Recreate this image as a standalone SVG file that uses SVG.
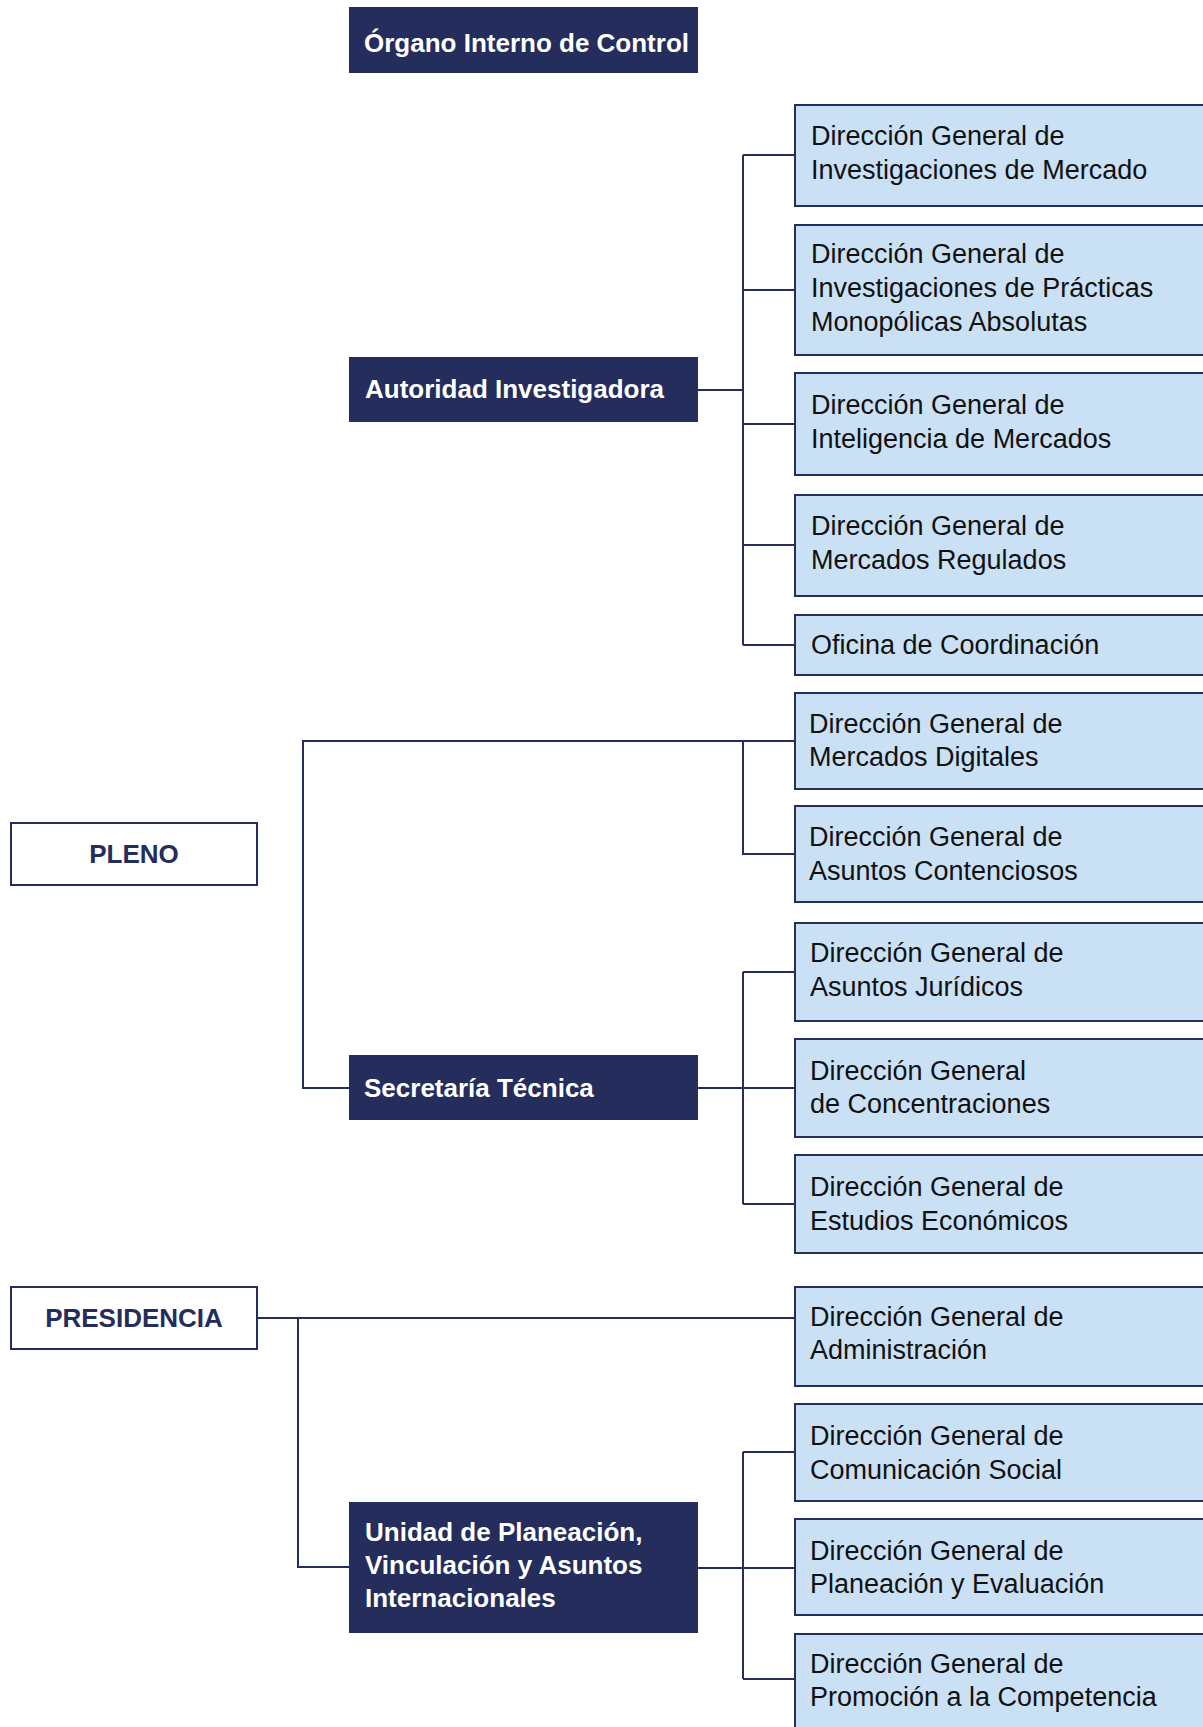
<svg xmlns="http://www.w3.org/2000/svg" width="1203" height="1727" viewBox="0 0 1203 1727">
<style>
.dark{fill:#242D5B;}
.dt{font-family:"Liberation Sans",Arial,sans-serif;font-weight:bold;font-size:26px;fill:#FFFFFF;}
.top{fill:#FFFFFF;stroke:#242D5B;stroke-width:2;}
.tt{font-family:"Liberation Sans",Arial,sans-serif;font-weight:bold;font-size:26px;fill:#242D5B;text-anchor:middle;}
.lb{fill:#C9E0F5;stroke:#242D5B;stroke-width:2;}
.lt{font-family:"Liberation Sans",Arial,sans-serif;font-size:27px;fill:#111111;}
.cn{fill:none;stroke:#242D5B;stroke-width:2;}
</style>
<rect width="1203" height="1727" fill="#FFFFFF"/>
<g id="connectors">
<path class="cn" d="M697 390 H743 M743 155 V645 M743 155 H795 M743 290 H795 M743 424 H795 M743 545 H795 M743 645 H795"/>
<path class="cn" d="M349 1088 H303 V741 H795 M743 741 V854 H795"/>
<path class="cn" d="M697 1088 H795 M743 972 V1204 M743 972 H795 M743 1204 H795"/>
<path class="cn" d="M257 1318 H795 M298 1318 V1567 H349"/>
<path class="cn" d="M697 1568 H795 M743 1452 V1679 M743 1452 H795 M743 1679 H795"/>
</g>
<g id="organo"><rect class="dark" x="349" y="7" width="349" height="66"/><text class="dt" x="364" y="52">Órgano Interno de Control</text></g>
<g id="autoridad"><rect class="dark" x="349" y="357" width="349" height="65"/><text class="dt" x="365" y="398">Autoridad Investigadora</text></g>
<g id="secretaria"><rect class="dark" x="349" y="1055" width="349" height="65"/><text class="dt" x="364" y="1097">Secretaría Técnica</text></g>
<g id="unidad"><rect class="dark" x="349" y="1502" width="349" height="131"/><text class="dt" x="365" y="1541">Unidad de Planeación,</text><text class="dt" x="365" y="1574">Vinculación y Asuntos</text><text class="dt" x="365" y="1607">Internacionales</text></g>
<g id="pleno"><rect class="top" x="11" y="823" width="246" height="62"/><text class="tt" x="134" y="863">PLENO</text></g>
<g id="presidencia"><rect class="top" x="11" y="1287" width="246" height="62"/><text class="tt" x="134" y="1327">PRESIDENCIA</text></g>
<g id="dg-inv-mercado"><rect class="lb" x="795" y="105" width="430" height="101"/><text class="lt" x="811" y="145">Dirección General de</text><text class="lt" x="811" y="179">Investigaciones de Mercado</text></g>
<g id="dg-inv-practicas"><rect class="lb" x="795" y="225" width="430" height="130"/><text class="lt" x="811" y="263">Dirección General de</text><text class="lt" x="811" y="297">Investigaciones de Prácticas</text><text class="lt" x="811" y="331">Monopólicas Absolutas</text></g>
<g id="dg-inteligencia"><rect class="lb" x="795" y="373" width="430" height="102"/><text class="lt" x="811" y="414">Dirección General de</text><text class="lt" x="811" y="448">Inteligencia de Mercados</text></g>
<g id="dg-regulados"><rect class="lb" x="795" y="495" width="430" height="101"/><text class="lt" x="811" y="535">Dirección General de</text><text class="lt" x="811" y="569">Mercados Regulados</text></g>
<g id="oficina"><rect class="lb" x="795" y="615" width="430" height="60"/><text class="lt" x="811" y="654">Oficina de Coordinación</text></g>
<g id="dg-digitales"><rect class="lb" x="795" y="693" width="430" height="96"/><text class="lt" x="809" y="733">Dirección General de</text><text class="lt" x="809" y="766">Mercados Digitales</text></g>
<g id="dg-contenciosos"><rect class="lb" x="795" y="806" width="430" height="96"/><text class="lt" x="809" y="846">Dirección General de</text><text class="lt" x="809" y="880">Asuntos Contenciosos</text></g>
<g id="dg-juridicos"><rect class="lb" x="795" y="923" width="430" height="98"/><text class="lt" x="810" y="962">Dirección General de</text><text class="lt" x="810" y="996">Asuntos Jurídicos</text></g>
<g id="dg-concentraciones"><rect class="lb" x="795" y="1039" width="430" height="98"/><text class="lt" x="810" y="1080">Dirección General</text><text class="lt" x="810" y="1113">de Concentraciones</text></g>
<g id="dg-estudios"><rect class="lb" x="795" y="1155" width="430" height="98"/><text class="lt" x="810" y="1196">Dirección General de</text><text class="lt" x="810" y="1230">Estudios Económicos</text></g>
<g id="dg-administracion"><rect class="lb" x="795" y="1287" width="430" height="99"/><text class="lt" x="810" y="1326">Dirección General de</text><text class="lt" x="810" y="1359">Administración</text></g>
<g id="dg-comunicacion"><rect class="lb" x="795" y="1404" width="430" height="97"/><text class="lt" x="810" y="1445">Dirección General de</text><text class="lt" x="810" y="1479">Comunicación Social</text></g>
<g id="dg-planeacion"><rect class="lb" x="795" y="1519" width="430" height="96"/><text class="lt" x="810" y="1560">Dirección General de</text><text class="lt" x="810" y="1593">Planeación y Evaluación</text></g>
<g id="dg-promocion"><rect class="lb" x="795" y="1634" width="430" height="110"/><text class="lt" x="810" y="1673">Dirección General de</text><text class="lt" x="810" y="1706">Promoción a la Competencia</text></g>
</svg>
